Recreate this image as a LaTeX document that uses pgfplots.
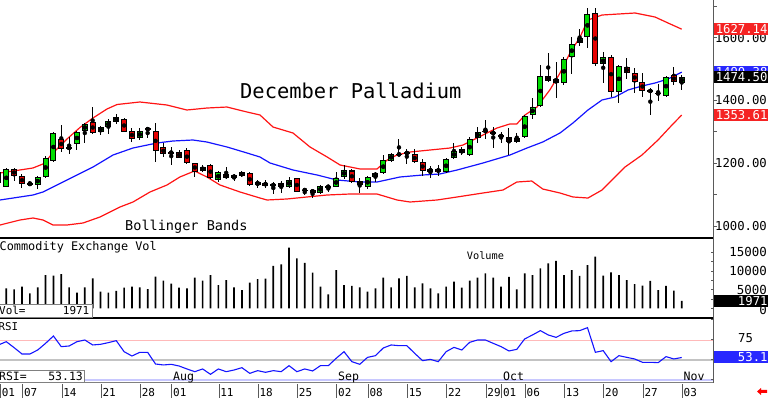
\documentclass[border=0pt]{standalone}
\usepackage{fontspec}
\setmainfont{DejaVu Sans Mono}
\usepackage{pgfplots}
\pgfplotsset{compat=1.18}
\usepackage{pgfplotstable}

\definecolor{cgreen}{RGB}{0,220,0}
\definecolor{cred}{RGB}{230,0,0}
\definecolor{bred}{RGB}{255,20,20}
\definecolor{bblue}{RGB}{20,20,255}
\definecolor{boxred}{RGB}{245,35,35}
\definecolor{boxblue}{RGB}{40,40,255}
\definecolor{framegray}{RGB}{90,90,90}

% i open high low close up volume rsi
\pgfplotstableread{
i o h l c u v r
0 1137 1178.4 1127.4 1172 1 5000 68.8
1 1125.2 1184.8 1124.2 1181.6 1 5360 72.9
2 1181.6 1185.7 1143.3 1159.3 0 5090 65.4
3 1159.3 1164.7 1122.0 1132.8 0 5790 57.5
4 1132.2 1143.3 1128.4 1135.4 1 4020 57.5
5 1130.6 1159.3 1116.9 1155.1 1 5630 62.5
6 1157.0 1223.0 1152.0 1215.7 1 8920 70.8
7 1208.0 1300.5 1204.9 1295.4 1 8740 80.0
8 1277.2 1321.8 1236.7 1245.3 0 9190 66.7
9 1247.9 1282.6 1229.4 1250.1 1 5630 67.5
10 1260.3 1302.7 1242.1 1300.5 1 4180 72.9
11 1303.6 1327.2 1265.4 1324.0 1 5630 75.0
12 1332.3 1380.1 1292.2 1295.4 0 8040 68.8
13 1300.5 1319.6 1289.9 1314.5 1 4450 69.6
14 1314.5 1340.9 1292.2 1334.6 1 4180 71.7
15 1332.3 1356.9 1324.0 1348.2 1 4640 74.2
16 1340.0 1345.1 1298.6 1300.5 0 5520 60.4
17 1303.6 1311.3 1268.6 1276.2 0 5790 55.0
18 1279.4 1311.3 1274.0 1303.6 1 5630 59.6
19 1311.3 1313.0 1279.4 1305.9 0 5170 59.6
20 1303.6 1327.2 1204.9 1238.9 0 8470 45.0
21 1250.7 1265.4 1220.8 1228.4 0 7400 43.8
22 1234.8 1250.7 1194.4 1232.6 0 6600 44.6
23 1234.8 1242.1 1215.7 1217.6 0 5520 42.5
24 1242.1 1247.6 1196.6 1199.8 0 5360 38.8
25 1199.8 1201.7 1157.0 1173.0 0 8200 35.4
26 1175.2 1194.4 1171.1 1188.9 1 7400 38.8
27 1194.4 1196.6 1149.7 1152.0 0 8920 32.1
28 1145.6 1176.2 1139.2 1171.1 1 6240 38.8
29 1165.6 1188.9 1149.7 1152.0 0 7580 35.4
30 1152.0 1165.6 1143.3 1162.4 1 5630 37.5
31 1159.3 1175.2 1156.1 1171.1 1 4900 40.4
32 1167.9 1171.1 1127.4 1129.6 0 6860 33.3
33 1130.6 1146.5 1122.0 1141.1 1 7850 36.7
34 1137.9 1146.5 1120.1 1128.4 0 7930 34.6
35 1127.4 1141.1 1100.9 1132.8 1 11340 36.7
36 1136.0 1143.3 1106.1 1125.2 0 11790 35.4
37 1125.2 1157.0 1122.0 1146.5 1 16240 42.9
38 1152.0 1153.9 1107.3 1109.3 0 13400 35.4
39 1113.7 1116.9 1098.7 1115.6 1 12140 38.8
40 1114.6 1116.9 1088.2 1106.1 0 9540 36.3
41 1106.1 1130.6 1101.9 1127.4 1 5790 42.9
42 1124.2 1129.6 1109.3 1125.8 1 3750 42.9
43 1125.2 1173.0 1123.3 1152.0 1 10260 52.1
44 1157.0 1194.4 1149.7 1178.4 1 6240 60.4
45 1176.8 1180.6 1136.0 1140.1 0 5980 47.9
46 1143.3 1152.0 1106.1 1130.6 0 5630 44.6
47 1123.3 1159.3 1116.9 1155.1 1 4450 53.3
48 1157.0 1173.0 1141.1 1169.8 1 5360 55.4
49 1167.9 1226.2 1165.6 1210.3 1 8200 65.0
50 1208.0 1233.5 1204.9 1229.4 1 5630 68.8
51 1229.4 1276.2 1224.6 1227.1 0 8040 67.9
52 1236.7 1244.4 1197.5 1228.4 0 8660 67.9
53 1228.4 1244.4 1199.8 1204.9 0 5630 58.3
54 1202.9 1213.4 1160.2 1176.2 0 6700 49.2
55 1173.0 1191.2 1152.0 1181.6 1 5360 50.8
56 1181.6 1194.4 1159.3 1172.0 0 4020 47.9
57 1171.1 1215.7 1167.9 1212.5 1 5790 60.4
58 1215.7 1265.4 1212.5 1239.9 1 7130 65.8
59 1244.4 1250.7 1226.2 1231.6 0 5520 62.5
60 1226.2 1284.5 1223.0 1276.2 1 7400 72.1
61 1279.4 1316.4 1263.5 1300.5 1 8200 75.0
62 1303.6 1337.7 1276.2 1301.7 0 9380 75.0
63 1300.5 1316.4 1247.6 1292.2 0 8200 70.8
64 1289.9 1300.5 1263.5 1283.6 0 5790 66.7
65 1284.5 1313.2 1226.2 1268.6 0 8390 61.3
66 1268.6 1297.3 1265.4 1281.3 1 5090 63.3
67 1282.6 1353.7 1279.4 1350.5 1 9380 76.3
68 1353.7 1406.9 1339.9 1380.1 1 8920 81.3
69 1382.3 1513.0 1378.2 1478.0 1 10720 86.7
70 1478.0 1550.3 1459.8 1462.0 0 12060 81.3
71 1467.4 1523.5 1406.9 1454.7 0 12680 78.3
72 1454.7 1539.5 1449.3 1531.2 1 8920 83.3
73 1537.5 1603.2 1484.3 1579.9 1 10260 86.3
74 1582.1 1626.8 1574.5 1598.1 1 8660 86.7
75 1603.2 1693.7 1566.2 1675.5 1 11600 90.4
76 1679.7 1693.7 1509.8 1515.2 0 13830 59.6
77 1515.2 1553.5 1454.7 1537.5 1 8740 61.7
78 1539.5 1544.9 1411.9 1427.9 0 9650 47.9
79 1427.9 1513.0 1390.9 1509.8 1 8920 55.4
80 1507.6 1534.4 1468.4 1486.5 0 7580 53.3
81 1486.5 1502.5 1424.7 1459.8 0 6510 51.3
82 1457.9 1488.5 1411.9 1431.1 0 6060 47.1
83 1433.3 1438.8 1353.7 1426.9 0 7320 47.1
84 1423.8 1452.5 1399.2 1421.2 0 4900 46.7
85 1415.2 1478.9 1411.9 1475.7 1 5980 54.2
86 1481.1 1507.6 1449.3 1457.9 0 4720 51.3
87 1455.6 1481.1 1433.3 1474.5 1 1971 53.13
}\data

\newcommand{\fs}[1]{\fontsize{#1}{#1}\selectfont}

\begin{document}
\begin{tikzpicture}
\path[use as bounding box] (0,0) rectangle (768bp,398bp);

% ---------------- price panel ----------------
\begin{axis}[
  at={(0bp,160bp)}, anchor=south west, scale only axis,
  width=713bp, height=238bp,
  xmin=0.199, xmax=90.98, ymin=961.7, ymax=1720.14,
  axis lines=none, xtick=\empty, ytick=\empty,
  clip mode=individual,
]
\addplot[bred, line width=1.2bp] coordinates {
(0.2,1168.8) (4.4,1184.8) (5.67,1197.5) (6.95,1232.6) (8.73,1277.2) (10.38,1313.8) (12.04,1344.1) (13.82,1372.8) (15.1,1387.1) (18.0,1395.1) (21.46,1385.5) (24.0,1369.6) (26.55,1375.9) (29.1,1379.1) (31.65,1363.2) (33.3,1353.7) (34.96,1315.4) (37.5,1296.3) (39.67,1251.7) (41.84,1220.0) (43.5,1194.3) (46.04,1181.6) (48.2,1181.6) (49.5,1210.2) (50.75,1226.2) (52.4,1235.7) (54.95,1242.1) (57.5,1248.5) (59.15,1258.0) (61.7,1289.9) (63.48,1312.2) (65.1,1325.0) (66.0,1325.0) (67.04,1353.7) (68.57,1379.1) (70.2,1433.3) (71.5,1487.5) (72.77,1551.2) (74.05,1602.2) (75.06,1656.4) (76.85,1672.3) (81.05,1678.7) (83.6,1665.9) (85.25,1646.9) (87.0,1627.14)};
\addplot[bblue, line width=1.2bp] coordinates {
(0.2,1082.8) (4.4,1098.7) (5.67,1108.3) (8.73,1146.5) (12.04,1187.9) (14.59,1226.2) (17.13,1248.5) (20.19,1264.4) (22.23,1270.8) (24.77,1274.0) (26.55,1267.6) (29.1,1251.7) (31.65,1232.6) (33.3,1219.8) (34.58,1200.7) (37.5,1178.4) (40.56,1162.5) (43.1,1146.5) (46.04,1140.1) (48.2,1140.1) (51.13,1156.1) (54.05,1162.5) (56.2,1165.6) (58.4,1178.4) (61.7,1200.7) (65.13,1226.2) (67.3,1248.5) (69.3,1267.6) (71.5,1296.3) (73.15,1328.2) (75.06,1369.6) (76.85,1401.5) (78.5,1411.0) (80.16,1433.3) (81.94,1446.1) (83.6,1455.6) (85.25,1468.4) (87.0,1490.38)};
\addplot[bred, line width=1.2bp] coordinates {
(0.2,1003.1) (2.75,1019.1) (4.4,1025.4) (5.67,1019.1) (6.95,1003.1) (8.73,1003.1) (10.77,1009.5) (12.93,1028.6) (15.48,1060.5) (17.13,1076.4) (19.3,1108.3) (21.46,1130.6) (23.1,1156.1) (24.97,1175.2) (26.55,1156.1) (28.21,1130.6) (30.76,1108.3) (33.3,1089.1) (34.2,1082.8) (36.74,1086.0) (39.3,1092.4) (41.84,1098.7) (44.76,1101.9) (48.2,1101.9) (50.75,1082.8) (52.4,1076.4) (55.84,1082.8) (58.4,1092.4) (61.7,1105.1) (64.24,1114.6) (66.0,1140.1) (67.9,1143.3) (69.3,1117.8) (71.5,1105.1) (73.15,1092.4) (75.06,1089.1) (76.85,1114.6) (79.78,1187.9) (81.94,1226.2) (83.98,1274.0) (85.76,1321.8) (87.0,1353.61)};
% wicks
\addplot[only marks, mark=none, error bars/.cd, y dir=both, y explicit, error mark=none,
  error bar style={black, line width=1bp}]
  table[x=i, y expr={(\thisrow{h}+\thisrow{l})/2}, y error expr={(\thisrow{h}-\thisrow{l})/2}] {\data};
% body outlines
\addplot[only marks, mark=none, error bars/.cd, y dir=both, y explicit, error mark=none,
  error bar style={black, line width=6bp}]
  table[x=i, y expr={(\thisrow{o}+\thisrow{c})/2}, y error expr={max(abs(\thisrow{c}-\thisrow{o})/2,1.6)}] {\data};
% green bodies
\addplot[only marks, mark=none, error bars/.cd, y dir=both, y explicit, error mark=none,
  error bar style={cgreen, line width=4bp}]
  table[x=i, y expr={(\thisrow{o}+\thisrow{c})/2}, y error expr={\thisrow{u}*max(abs(\thisrow{c}-\thisrow{o})/2-3.2,1.6)}] {\data};
% red bodies
\addplot[only marks, mark=none, error bars/.cd, y dir=both, y explicit, error mark=none,
  error bar style={cred, line width=4bp}]
  table[x=i, y expr={(\thisrow{o}+\thisrow{c})/2}, y error expr={(1-\thisrow{u})*max(abs(\thisrow{c}-\thisrow{o})/2-3.2,1.6)}] {\data};
\end{axis}

% ---------------- volume panel ----------------
\begin{axis}[
  at={(0bp,80bp)}, anchor=south west, scale only axis,
  width=713bp, height=80bp,
  xmin=0.199, xmax=90.98, ymin=-2600, ymax=18840,
  axis lines=none, xtick=\empty, ytick=\empty,
  clip mode=individual,
]
\addplot[ybar, bar width=1.7bp, fill=black, draw=none] table[x=i, y=v] {\data};
\end{axis}

% ---------------- RSI panel ----------------
\begin{axis}[
  at={(0bp,15bp)}, anchor=south west, scale only axis,
  width=713bp, height=65bp,
  xmin=0.199, xmax=90.98, ymin=21.25, ymax=102.5,
  axis lines=none, xtick=\empty, ytick=\empty,
  clip mode=individual,
]
\addplot[color={rgb,255:red,255;green,185;blue,185}, line width=0.8bp] coordinates {(0.199,75) (90.98,75)};
\addplot[color={rgb,255:red,195;green,195;blue,195}, line width=1.4bp] coordinates {(0.199,50) (90.98,50)};
\addplot[color={rgb,255:red,200;green,200;blue,255}, line width=1.2bp] coordinates {(0.199,25) (90.98,25)};
\addplot[bblue, line width=1.1bp] table[x=i, y=r] {\data};
\end{axis}

% ---------------- frames ----------------
\draw[black, line width=1.3bp] (0,160bp) -- (713.5bp,160bp);
\draw[black, line width=1.1bp] (0,80bp) -- (713.5bp,80bp);
\draw[gray, line width=1bp] (0,15bp) -- (713.5bp,15bp);
\draw[framegray, line width=1bp] (713.5bp,15bp) -- (713.5bp,398bp);
\foreach \y in {391.7,360.3,328.9,297.5,266.1,234.8,203.4,172.0}
  \draw[framegray, line width=0.8bp] (713.5bp,\y bp) -- (717bp,\y bp);
\foreach \y in {89.7,99.0,108.4,117.7,127.0,136.4,145.7}
  \draw[framegray, line width=0.8bp] (713.5bp,\y bp) -- (710.5bp,\y bp);
\foreach \y in {18.5,38.5,58.5,78.5}
  \draw[framegray, line width=0.8bp] (713.5bp,\y bp) -- (710.5bp,\y bp);

% ---------------- texts ----------------
\node[anchor=base west, inner sep=0] at (240bp,299bp) {\fs{20.5}December Palladium};
\node[anchor=base west, inner sep=0] at (125bp,167bp) {\fs{13.6}Bollinger Bands};
\node[anchor=base west, inner sep=0] at (-0.5bp,147.5bp) {\fs{11.9}Commodity Exchange Vol};
\node[anchor=base west, inner sep=0] at (466.7bp,138bp) {\fs{10.3}Volume};
\node[anchor=base west, inner sep=0] at (-1.5bp,67.5bp) {\fs{10.8}RSI};

% Vol box
\draw[gray, fill=white, line width=0.8bp] (-1bp,81bp) rectangle (92bp,94bp);
\node[anchor=base west, inner sep=0] at (-1bp,83.5bp) {\fs{11}Vol=};
\node[anchor=base east, inner sep=0] at (89.5bp,83.5bp) {\fs{11}1971};
% RSI box
\draw[gray, fill=white, line width=0.8bp] (-1bp,16bp) rectangle (84bp,28bp);
\node[anchor=base west, inner sep=0] at (-1bp,18bp) {\fs{11.5}RSI=};
\node[anchor=base east, inner sep=0] at (83bp,18bp) {\fs{11.5}53.13};

% right axis labels, price
\foreach \y/\t in {360.3/1600.00, 297.5/1400.00, 234.8/1200.00, 172.0/1000.00}
  \node[anchor=west, inner sep=0] at (715bp,\y bp) {\fs{12.3}\t};
\tikzset{rbox/.style={anchor=west, inner xsep=0.8bp, inner ysep=0, minimum height=12bp,
  text width=52.5bp, align=right, text=white}}
\node[rbox, fill=boxblue] at (714bp,325.9bp) {\fs{12.3}1490.38};
\node[rbox, fill=black] at (714bp,320.9bp) {\fs{12.3}1474.50};
\node[rbox, fill=boxred] at (714bp,368.8bp) {\fs{12.3}1627.14};
\node[rbox, fill=boxred] at (714bp,283.0bp) {\fs{12.3}1353.61};

% right axis labels, volume
\foreach \y/\t in {145.7/15000, 127.0/10000, 108.4/5000, 88.5/0}
  \node[anchor=east, inner sep=0] at (767bp,\y bp) {\fs{12.5}\t};
\node[rbox, fill=black, minimum height=11.5bp] at (714bp,97bp) {\fs{12.3}1971};

% right axis labels, RSI
\node[anchor=west, inner sep=0] at (738bp,59.5bp) {\fs{12.3}75};
\node[rbox, fill=boxblue] at (714bp,40.7bp) {\fs{12.3}53.1};

% dates
\foreach \x/\t in {0.5/01, 22.6/07, 61.9/14, 101.1/21, 140.4/28, 171.8/01, 218.9/11, 258.2/18, 297.5/25, 336.8/02, 368.2/08, 407.4/15, 446.7/22, 486.0/29, 501.7/01, 525.3/06, 564.5/13, 603.8/20, 643.1/27, 682.3/03} {
  \draw[framegray, line width=0.8bp] (\x bp,0bp) -- (\x bp,14bp);
  \node[anchor=base west, inner sep=0] at (\x bp+1.2bp,2bp) {\fs{11}\t};
}
\foreach \x/\t in {171.8/Aug, 336.8/Sep, 501.7/Oct, 682.3/Nov}
  \node[anchor=base west, inner sep=0] at (\x bp+1.2bp,17.8bp) {\fs{11.6}\t};

% red arrow
\fill[red] (757bp,6.5bp) -- (761bp,10bp) -- (761bp,8bp) -- (767bp,8bp) -- (767bp,5bp) -- (761bp,5bp) -- (761bp,3bp) -- cycle;
\end{tikzpicture}
\end{document}
